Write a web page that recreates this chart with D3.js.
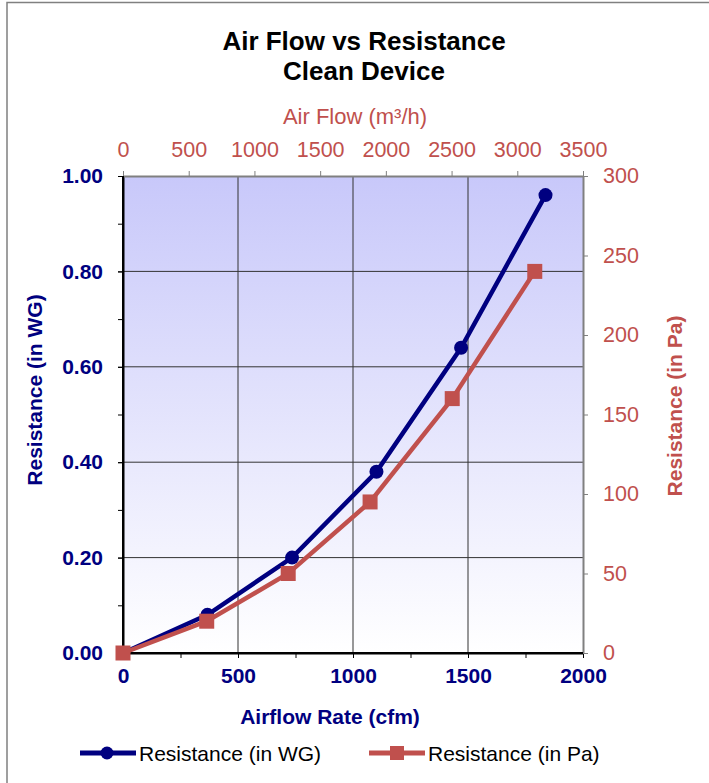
<!DOCTYPE html>
<html>
<head>
<meta charset="utf-8">
<script src="https://cdn.jsdelivr.net/npm/d3@7"></script>
<style>
body{margin:0;background:#fff;}
svg{font-family:"Liberation Sans",Arial,sans-serif;}
</style>
</head>
<body>
<svg id="chart"></svg>
<script>
let width = 709
let height = 783
let plotL = 123, plotR = 583, plotT = 176, plotB = 653

// blue series: cfm vs inches WG
let cfm = [0, 367, 735, 1102, 1470, 1837]
let wg = [0, 0.08, 0.20, 0.38, 0.64, 0.96]
// red series: m3/h vs Pa
let m3h = [0, 637, 1257, 1880, 2505, 3133]
let pa = [0, 20, 50, 95, 160, 240]

let cfmTicks = [0, 500, 1000, 1500, 2000]
let wgTicks = [0, 0.2, 0.4, 0.6, 0.8, 1.0]
let m3hTicks = [0, 500, 1000, 1500, 2000, 2500, 3000, 3500]
let paTicks = [0, 50, 100, 150, 200, 250, 300]

let navy = '#000080'
let red = '#C0504D'

let svg = d3.select('#chart').attr('width', width).attr('height', height)

let defs = svg.append('defs')
let grad = defs.append('linearGradient').attr('id', 'bg')
  .attr('x1', 0).attr('y1', 0).attr('x2', 0).attr('y2', 1)
grad.append('stop').attr('offset', '0%').attr('stop-color', '#c8c8fa')
grad.append('stop').attr('offset', '100%').attr('stop-color', '#ffffff')

// outer frame
svg.append('rect').attr('x', 7).attr('y', 2.5).attr('width', 760).attr('height', 800)
  .attr('fill', 'none').attr('stroke', '#808080').attr('stroke-width', 1.5)

let xScale = d3.scaleLinear().domain([0, 2000]).range([plotL, plotR])
let yScale = d3.scaleLinear().domain([0, 1]).range([plotB, plotT])
let x2Scale = d3.scaleLinear().domain([0, 3500]).range([plotL, plotR])
let y2Scale = d3.scaleLinear().domain([0, 300]).range([plotB, plotT])

svg.append('rect').attr('x', plotL).attr('y', plotT).attr('width', plotR - plotL).attr('height', plotB - plotT)
  .attr('fill', 'url(#bg)')

// grid
svg.append('g').selectAll('line').data([500, 1000, 1500]).enter().append('line')
  .attr('x1', d => xScale(d)).attr('x2', d => xScale(d)).attr('y1', plotT).attr('y2', plotB)
  .attr('stroke', '#333').attr('stroke-width', 1)
svg.append('g').selectAll('line').data([0.2, 0.4, 0.6, 0.8]).enter().append('line')
  .attr('y1', d => yScale(d)).attr('y2', d => yScale(d)).attr('x1', plotL).attr('x2', plotR)
  .attr('stroke', '#333').attr('stroke-width', 1)

// axes
let styleAxis = (g, col, lineCol, bold, size) => {
  g.select('.domain').attr('stroke', lineCol).attr('stroke-width', 2)
  g.selectAll('.tick line').attr('stroke', lineCol).attr('stroke-width', 1)
  g.selectAll('text').attr('fill', col).attr('font-size', size)
    .attr('font-weight', bold ? 'bold' : 'normal').attr('font-family', '"Liberation Sans",Arial,sans-serif')
}

// minor ticks
svg.append('g').attr('transform', 'translate(0,' + plotB + ')')
  .call(d3.axisBottom(xScale).tickValues(d3.range(0, 2001, 250)).tickSize(5).tickFormat(''))
  .call(g => g.select('.domain').remove()).selectAll('line').attr('stroke', '#000')
svg.append('g').attr('transform', 'translate(' + plotL + ',0)')
  .call(d3.axisLeft(yScale).tickValues(d3.range(0, 1.01, 0.1)).tickSize(5).tickFormat(''))
  .call(g => g.select('.domain').remove()).selectAll('line').attr('stroke', '#000')

let xAxis = svg.append('g').attr('transform', 'translate(0,' + plotB + ')')
  .call(d3.axisBottom(xScale).tickValues(cfmTicks).tickSize(5).tickSizeOuter(0).tickPadding(10).tickFormat(d3.format('d')))
styleAxis(xAxis, navy, '#000', true, 21)

let yAxis = svg.append('g').attr('transform', 'translate(' + plotL + ',0)')
  .call(d3.axisLeft(yScale).tickValues(wgTicks).tickSize(5).tickSizeOuter(0).tickPadding(15).tickFormat(d3.format('.2f')))
styleAxis(yAxis, navy, '#000', true, 21)

let x2Axis = svg.append('g').attr('transform', 'translate(0,' + plotT + ')')
  .call(d3.axisTop(x2Scale).tickValues(m3hTicks).tickSize(5).tickSizeOuter(0).tickPadding(14).tickFormat(d3.format('d')))
styleAxis(x2Axis, red, '#808080', false, 21.5)

let y2Axis = svg.append('g').attr('transform', 'translate(' + plotR + ',0)')
  .call(d3.axisRight(y2Scale).tickValues(paTicks).tickSize(5).tickSizeOuter(0).tickPadding(15).tickFormat(d3.format('d')))
styleAxis(y2Axis, red, '#808080', false, 21.5)

// re-draw left/bottom lines on top
svg.append('line').attr('x1', plotL).attr('x2', plotL).attr('y1', plotT).attr('y2', plotB).attr('stroke', '#000').attr('stroke-width', 2)
svg.append('line').attr('x1', plotL).attr('x2', plotR).attr('y1', plotB).attr('y2', plotB).attr('stroke', '#000').attr('stroke-width', 2)

// series
let blueData = cfm.map((c, i) => [c, wg[i]])
let redData = m3h.map((m, i) => [m, pa[i]])

svg.append('path').datum(blueData)
  .attr('d', d3.line().x(d => xScale(d[0])).y(d => yScale(d[1])))
  .attr('fill', 'none').attr('stroke', navy).attr('stroke-width', 4.5)
svg.selectAll('.dot').data(blueData).enter().append('circle').attr('class', 'dot')
  .attr('cx', d => xScale(d[0])).attr('cy', d => yScale(d[1])).attr('r', 7).attr('fill', navy)

svg.append('path').datum(redData)
  .attr('d', d3.line().x(d => x2Scale(d[0])).y(d => y2Scale(d[1])))
  .attr('fill', 'none').attr('stroke', red).attr('stroke-width', 4.5)
svg.selectAll('.sq').data(redData).enter().append('rect').attr('class', 'sq')
  .attr('x', d => x2Scale(d[0]) - 7.5).attr('y', d => y2Scale(d[1]) - 7.5)
  .attr('width', 15).attr('height', 15).attr('fill', red)

// titles
let title = svg.append('text').attr('x', 363).attr('text-anchor', 'middle')
  .attr('font-size', 26).attr('font-weight', 'bold').attr('fill', '#000')
title.append('tspan').attr('x', 364).attr('y', 50).text('Air Flow vs Resistance')
title.append('tspan').attr('x', 364).attr('y', 80).text('Clean Device')

svg.append('text').attr('x', 355).attr('y', 124).attr('text-anchor', 'middle')
  .attr('font-size', 22).attr('fill', red).text('Air Flow (m³/h)')

svg.append('text').attr('x', 330).attr('y', 724).attr('text-anchor', 'middle')
  .attr('font-size', 21).attr('font-weight', 'bold').attr('fill', navy).text('Airflow Rate (cfm)')

svg.append('text').attr('transform', 'translate(42,390) rotate(-90)').attr('text-anchor', 'middle')
  .attr('font-size', 21).attr('font-weight', 'bold').attr('fill', navy).text('Resistance (in WG)')

svg.append('text').attr('transform', 'translate(682,406) rotate(-90)').attr('text-anchor', 'middle')
  .attr('font-size', 21).attr('font-weight', 'bold').attr('fill', red).text('Resistance (in Pa)')

// legend
let legend = [
  {name: 'Resistance (in WG)', color: navy, shape: 'circle', x: 80},
  {name: 'Resistance (in Pa)', color: red, shape: 'square', x: 369}
]
let lg = svg.selectAll('.lg').data(legend).enter().append('g').attr('class', 'lg')
  .attr('transform', d => 'translate(' + d.x + ',753)')
lg.append('line').attr('x1', 0).attr('x2', 56).attr('stroke', d => d.color).attr('stroke-width', 5)
lg.filter(d => d.shape == 'circle').append('circle').attr('cx', 27).attr('r', 6.5).attr('fill', d => d.color)
lg.filter(d => d.shape == 'square').append('rect').attr('x', 21).attr('y', -7).attr('width', 14).attr('height', 14).attr('fill', d => d.color)
lg.append('text').attr('x', 59).attr('y', 7.5).attr('font-size', 21).attr('fill', '#000').text(d => d.name)
</script>
</body>
</html>
